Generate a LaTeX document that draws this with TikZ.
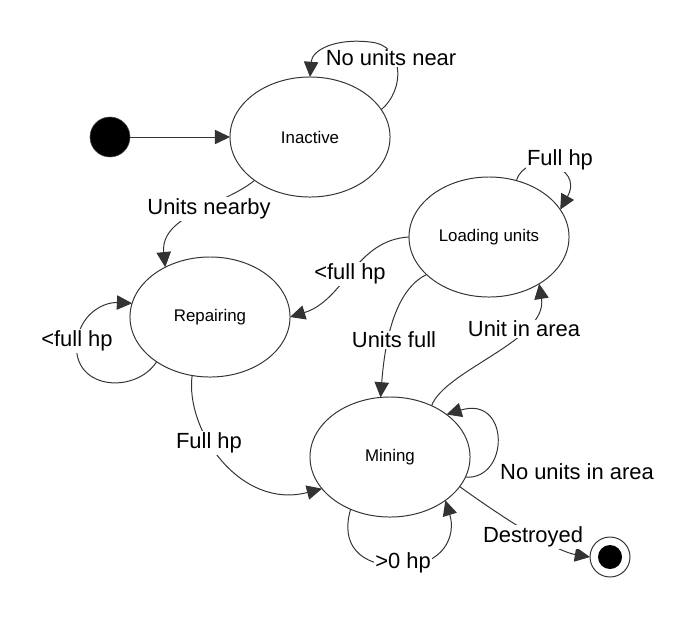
\documentclass[tikz,border=0pt]{standalone}
\usepackage{fontspec}
\setmainfont{Liberation Sans}
\usetikzlibrary{shapes.geometric,arrows.meta}

\tikzset{
  state/.style={shape=ellipse,draw=black!80,line width=0.7pt,minimum width=4cm,
    minimum height=3cm,inner sep=0pt,outer sep=0pt,font=\fontsize{12}{14}\selectfont},
  trans/.style={draw=black!80,line width=0.7pt,-{Triangle[length=0.38cm,width=0.36cm]}},
  lbl/.style={fill=white,inner sep=1pt,font=\fontsize{15.6}{18}\selectfont},
}

\begin{document}
\begin{tikzpicture}[x=0.025cm,y=-0.025cm]
  \useasboundingbox (0,0) rectangle (695,620);

  % draw states with nodes
  \node[state] (inactive) at (310,137) {Inactive};
  \node[state] (loading) at (489,237) {Loading units};
  \node[state] (repairing) at (210,317) {Repairing};
  \node[state] (mining) at (390,457) {Mining};

  % initial and final state
  \node[shape=circle,fill=black,draw=black!70,minimum size=1cm,inner sep=0pt,outer sep=0pt] (start) at (110,137) {};
  \node[shape=circle,fill=white,draw=black!80,line width=0.7pt,minimum size=1cm,inner sep=0pt,outer sep=0pt] (end) at (610,557) {};
  \node[shape=circle,fill=black,minimum size=0.6cm,inner sep=0pt] (endin) at (end) {};

  % transitions
  \draw[trans] (start) -- (inactive);
  \draw[trans] (inactive.21) .. controls (405,90) and (405,45) .. (370,42)
    .. controls (335,38) and (312,50) .. (inactive.north);
  \draw[trans] (inactive.218) .. controls (225,205) and (160,215) .. (repairing.132);
  \draw[trans] (repairing.220) .. controls (135,395) and (70,390) .. (77,340)
    .. controls (82,312) and (105,302) .. (repairing.170);
  \draw[trans] (loading.west) .. controls (355,240) and (345,300) .. (repairing.east);
  \draw[trans] (loading.64) .. controls (525,150) and (585,165) .. (loading.21);
  \draw[trans] (loading.211) .. controls (395,290) and (385,340) .. (mining.99);
  \draw[trans] (mining.51) .. controls (445,370) and (548,340) .. (loading.-43);
  \draw[trans] (repairing.-107) .. controls (185,430) and (240,510) .. (mining.205);
  \draw[trans] (mining.-15) .. controls (510,480) and (510,395) .. (mining.37);
  \draw[trans] (mining.-23) .. controls (520,530) and (560,552) .. (end.west);
  \draw[trans] (mining.-127) .. controls (340,545) and (360,566) .. (400,566)
    .. controls (445,566) and (456,535) .. (mining.-38);

  % labels on top of the lines
  \foreach [count=\n] \x/\y/\t in {391/58/No units near, 209/209/Units nearby,
      77/341/<full hp, 350/274/<full hp, 560/160/Full hp, 394/340/Units full,
      524/329/Unit in area, 209/443/Full hp, 577/472/No units in area,
      533/537/Destroyed, 403/563/>0 hp} {
    \node[lbl] (lbl\n) at (\x,\y) {\t};
  };

\end{tikzpicture}
\end{document}
